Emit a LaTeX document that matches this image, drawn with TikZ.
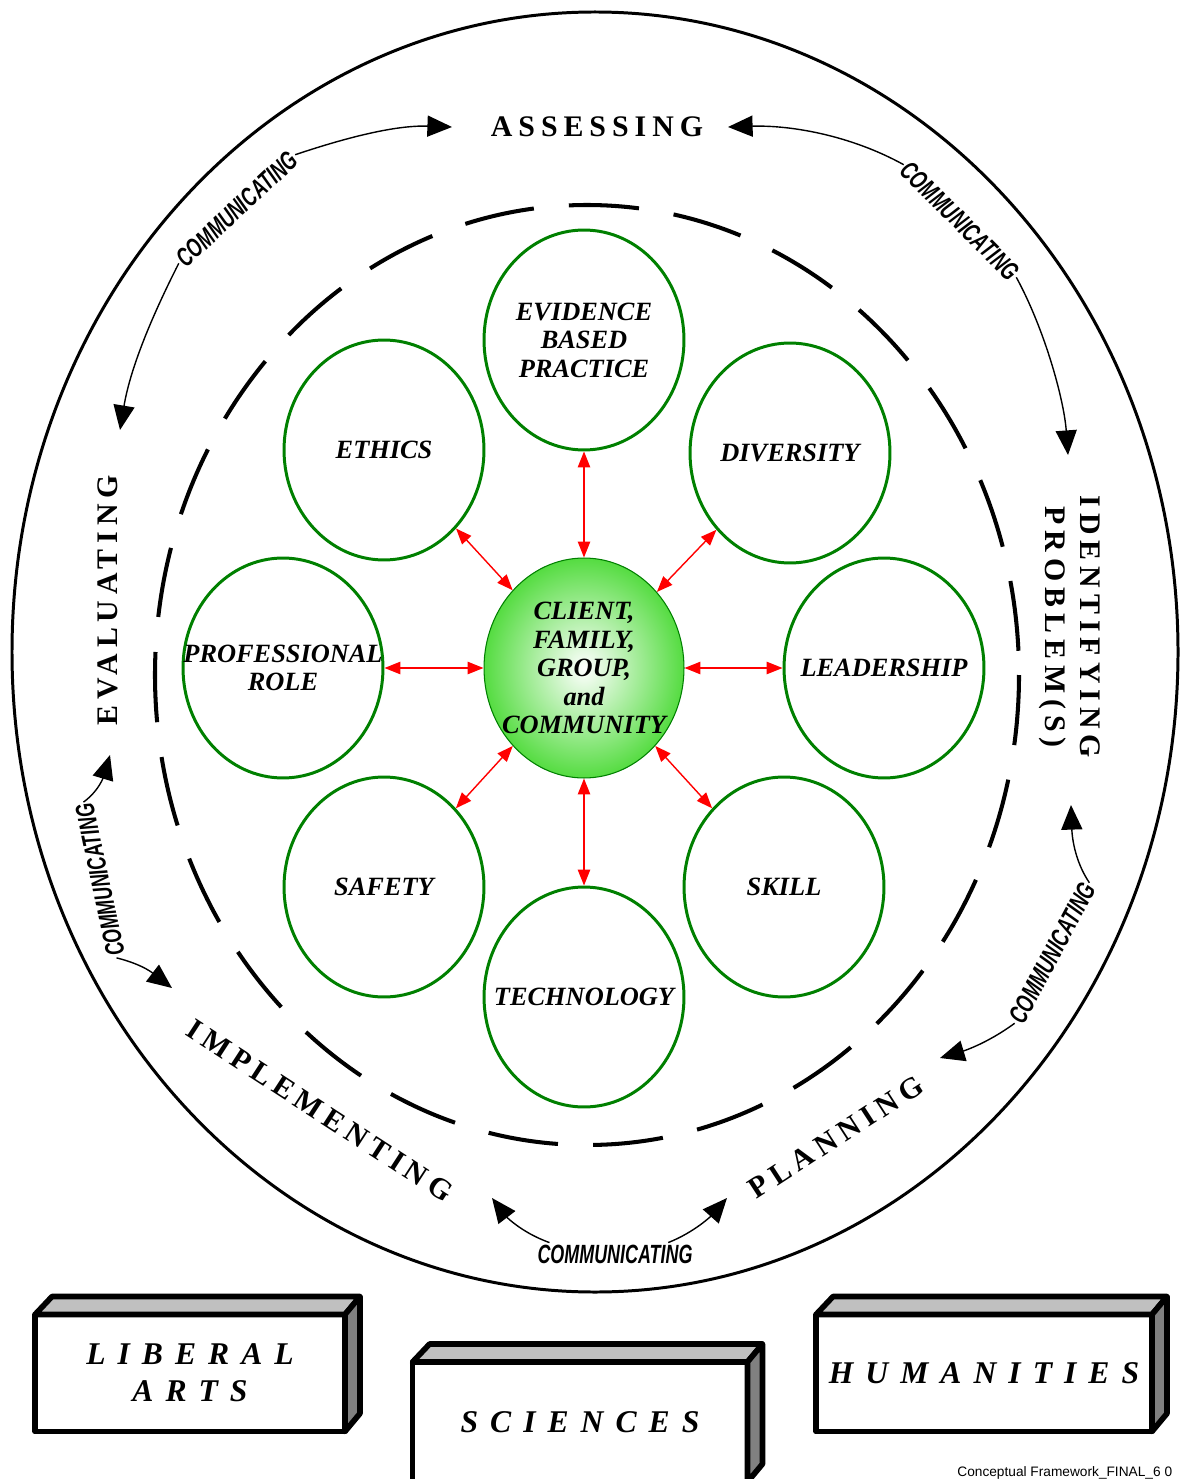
\documentclass[tikz,border=0pt]{standalone}
\usepackage{fontspec}
\setmainfont{Liberation Serif}
\newfontfamily\procfont[LetterSpace=20]{Liberation Serif}
\newfontfamily\slabfont[LetterSpace=38]{Liberation Serif}
\newfontfamily\commfont{Liberation Sans}
\usetikzlibrary{shapes.geometric,arrows.meta}
\definecolor{ringgreen}{RGB}{0,128,0}
\definecolor{ballgreen}{RGB}{85,220,65}
\definecolor{topgray}{RGB}{192,192,192}
\definecolor{sidegray}{RGB}{128,128,128}
\begin{document}
\begin{tikzpicture}[x=0.02cm, y=-0.02cm,
		topic/.style={ellipse, draw=ringgreen, line width=1.7pt, minimum width=4cm, minimum height=4.4cm, inner sep=0pt},
		ball/.style={ellipse, draw=ringgreen, line width=0.6pt, minimum width=4cm, minimum height=4.4cm, inner sep=0pt, inner color=white, outer color=ballgreen},
		topictext/.style={align=center, inner sep=0pt, font=\fontsize{15}{16.2}\selectfont\bfseries\itshape},
		link/.style={red, line width=0.8pt, {Triangle[length=9pt,width=7pt]}-{Triangle[length=9pt,width=7pt]}},
		process/.style={align=center, inner sep=0pt, font=\procfont\fontsize{17}{20}\selectfont\bfseries},
		comm/.style={inner sep=1pt, font=\commfont\fontsize{15}{16}\selectfont\bfseries\itshape},
		commarrow/.style={line width=0.8pt, -{Triangle[length=14pt,width=12pt]}},
		slab/.style={draw, line width=3.2pt, line join=round, outer sep=0pt, fill=white, minimum height=2.34cm, align=center, font=\slabfont\fontsize{18}{21}\selectfont\bfseries\itshape},
		face/.style={draw, line width=3.2pt, line join=round}]
	\useasboundingbox (0,0) rectangle (1181,1479);
	\draw[line width=1.7pt] (595,652) ellipse (583 and 640);
	\draw[line width=2.3pt, dash pattern=on 40pt off 20pt] (587,675) ellipse (432 and 470);

	\node[topic] (evid) at (584,340) {};
	\node[topic] (ethic) at (384,450) {};
	\node[topic] (divers) at (790,453) {};
	\node[topic] (prof) at (283,668) {};
	\node[topic] (lead) at (884,668) {};
	\node[topic] (safe) at (384,887) {};
	\node[topic] (skill) at (784,887) {};
	\node[topic] (tech) at (584,997) {};
	\node[ball] (client) at (584,668) {};

	\node[topictext] (evidtext) at (evid) {EVIDENCE\\BASED\\PRACTICE};
	\node[topictext] (ethictext) at (ethic) {ETHICS};
	\node[topictext] (diverstext) at (divers) {DIVERSITY};
	\node[topictext] (proftext) at (prof) {PROFESSIONAL\\ROLE};
	\node[topictext] (leadtext) at (lead) {LEADERSHIP};
	\node[topictext] (safetext) at (safe) {SAFETY};
	\node[topictext] (skilltext) at (skill) {SKILL};
	\node[topictext] (techtext) at (tech) {TECHNOLOGY};
	\node[topictext] (clienttext) at (client) {CLIENT,\\FAMILY,\\GROUP,\\and\\COMMUNITY};

	\foreach \t in {evid,ethic,divers,prof,lead,safe,skill,tech}
		\draw[link] (client) -- (\t);

	\node[process] (assess) at (597,127) {ASSESSING};
	\node[process, rotate=-90] (ident) at (1070,627) {IDENTIFYING\\PROBLEM(S)};
	\node[process, rotate=-33] (implem) at (320,1111) {IMPLEMENTING};
	\node[process, rotate=33] (plan) at (836,1137) {PLANNING};
	\node[process, rotate=90] (evalu) at (108,600) {EVALUATING};

	\node[comm, rotate=43] (comm1) at (237,209) {\scalebox{0.68}[1]{COMMUNICATING}};
	\node[comm, rotate=-45] (comm2) at (960,221) {\scalebox{0.68}[1]{COMMUNICATING}};
	\node[comm, rotate=62] (comm3) at (1052,953) {\scalebox{0.68}[1]{COMMUNICATING}};
	\node[comm] (comm4) at (615,1254) {\scalebox{0.68}[1]{COMMUNICATING}};
	\node[comm, rotate=102] (comm5) at (100,880) {\scalebox{0.68}[1]{COMMUNICATING}};

	\coordinate (tip1a) at (452,127);
	\coordinate (tip1b) at (120,430);
	\coordinate (tip2a) at (728,127);
	\coordinate (tip2b) at (1068,455);
	\coordinate (tip3a) at (1071,805);
	\coordinate (tip3b) at (940,1058);
	\coordinate (tip4a) at (492,1198);
	\coordinate (tip4b) at (727,1198);
	\coordinate (tip5a) at (110,755);
	\coordinate (tip5b) at (172,988);

	\draw[commarrow] (comm1.east) .. controls (345,138) and (395,125) .. (tip1a);
	\draw[commarrow] (comm1.west) .. controls (150,320) and (130,370) .. (tip1b);
	\draw[commarrow] (comm2.west) .. controls (850,135) and (790,125) .. (tip2a);
	\draw[commarrow] (comm2.east) .. controls (1045,330) and (1064,400) .. (tip2b);
	\draw[commarrow] (comm3.east) .. controls (1074,860) and (1072,835) .. (tip3a);
	\draw[commarrow] (comm3.west) .. controls (985,1045) and (960,1052) .. (tip3b);
	\draw[commarrow] ([xshift=8pt]comm4.north west) .. controls (520,1232) and (505,1215) .. (tip4a);
	\draw[commarrow] ([xshift=-15pt]comm4.north east) .. controls (695,1232) and (712,1215) .. (tip4b);
	\draw[commarrow] (comm5.east) .. controls (100,790) and (104,775) .. (tip5a);
	\draw[commarrow] (comm5.west) .. controls (145,965) and (155,975) .. (tip5b);

	\node[slab, minimum width=6.2cm] (libarts) at (190,1373) {LIBERAL\\ARTS};
	\node[slab, minimum width=6.7cm, minimum height=2.4cm] (scien) at (580,1422) {SCIENCES};
	\node[slab, minimum width=6.72cm] (human) at (984,1373) {HUMANITIES};
	\foreach \s in {libarts,scien,human} {
		\draw[face, fill=topgray] (\s.north west) -- ([xshift=0.34cm,yshift=0.36cm]\s.north west) -- ([xshift=0.3cm,yshift=0.36cm]\s.north east) -- (\s.north east) -- cycle;
		\draw[face, fill=sidegray] (\s.north east) -- ([xshift=0.3cm,yshift=0.36cm]\s.north east) -- ([xshift=0.3cm,yshift=0.36cm]\s.south east) -- (\s.south east) -- cycle;
	}

	\node[anchor=base west, inner sep=0pt, font=\commfont\fontsize{7.8}{9}\selectfont] (footer) at (957,1476) {Conceptual Framework\_FINAL\_6 0};
\end{tikzpicture}
\end{document}
